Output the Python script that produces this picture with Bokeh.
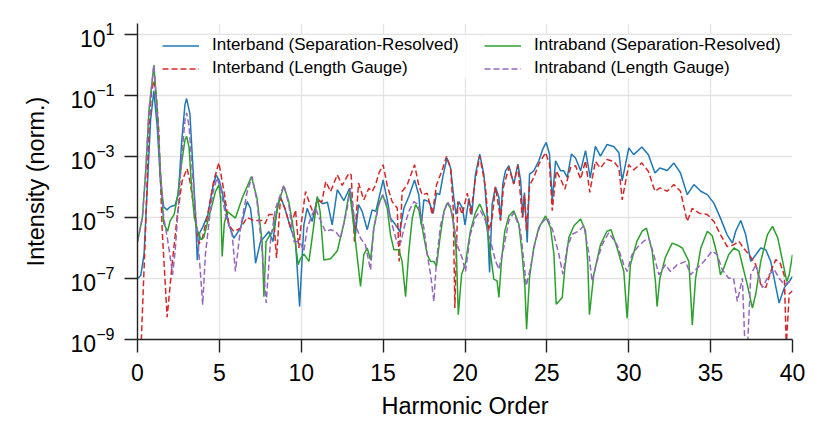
from bokeh.plotting import figure
from bokeh.models import (Range1d, FixedTicker, LogTickFormatter, Legend,
                          LegendItem, ColumnDataSource)
from bokeh.embed import file_html
from bokeh.resources import INLINE

# ---- data: (harmonic order, log10 of normalised intensity) ----
inter_sr = [
    (0.0, -7.0), (0.2, -6.9), (0.4, -6.2), (0.6, -4.0), (0.8, -1.8), (1.0, -0.85),
    (1.2, -2.0), (1.4, -3.8), (1.6, -4.65), (1.8, -4.75), (2.0, -4.65), (2.3, -4.6),
    (2.5, -4.2), (2.7, -2.5), (2.9, -1.3), (3.0, -1.1), (3.2, -1.6), (3.4, -3.5),
    (3.55, -5.0), (3.65, -6.4), (3.8, -5.5), (4.0, -5.3), (4.3, -4.9), (4.6, -4.0),
    (4.8, -3.6), (5.0, -3.8), (5.17, -4.15), (5.58, -5.24), (5.88, -5.68), (6.29, -5.35),
    (6.7, -4.48), (6.9, -4.7), (7.05, -5.4), (7.21, -6.5), (7.51, -5.79), (7.82, -5.6),
    (8.02, -5.46), (8.27, -5.79), (8.53, -4.7), (8.73, -4.31), (9.0, -4.7), (9.35, -5.35),
    (9.65, -5.79), (9.9, -7.92), (10.16, -5.24), (10.36, -4.7), (10.67, -5.13), (10.98, -4.37),
    (11.3, -4.55), (11.6, -4.5), (11.89, -5.24), (12.2, -4.09), (12.6, -4.45), (12.95, -4.04),
    (13.2, -5.02), (13.3, -5.6), (13.5, -4.58), (13.72, -4.8), (14.03, -5.4), (14.33, -4.75),
    (14.55, -4.8), (14.84, -4.15), (15.0, -3.77), (15.25, -4.42), (15.45, -5.02), (15.76, -5.24),
    (16.02, -5.46), (16.27, -4.69), (16.57, -4.31), (16.92, -3.77), (17.18, -4.26), (17.33, -5.24),
    (17.49, -4.42), (17.8, -4.48), (18.06, -4.86), (18.26, -4.2), (18.45, -4.25), (18.67, -3.6),
    (18.9, -3.05), (19.12, -3.38), (19.32, -4.37), (19.45, -4.9), (19.63, -4.48), (19.85, -4.7),
    (20.0, -5.24), (20.24, -4.37), (20.42, -4.9), (20.64, -3.58), (20.9, -2.92), (21.15, -3.58),
    (21.35, -4.9), (21.5, -6.8), (21.66, -4.56), (21.86, -4.0), (22.07, -4.34), (22.17, -5.1),
    (22.31, -3.9), (22.47, -3.47), (22.68, -3.3), (22.98, -3.9), (23.23, -3.25), (23.4, -3.8),
    (23.53, -5.0), (23.63, -4.18), (23.8, -5.82), (23.94, -3.58), (24.2, -3.47), (24.51, -3.14),
    (24.75, -2.76), (24.96, -2.54), (25.16, -2.92), (25.33, -4.45), (25.53, -3.14), (25.84, -3.47),
    (26.04, -3.47), (26.24, -3.69), (26.5, -2.92), (26.75, -3.05), (27.06, -3.47), (27.36, -2.81),
    (27.65, -3.7), (27.96, -2.67), (28.27, -2.99), (28.67, -2.61), (29.08, -2.67), (29.4, -2.88),
    (29.6, -3.8), (30.0, -2.72), (30.3, -2.94), (30.8, -2.69), (31.2, -2.94), (31.6, -3.54),
    (31.9, -3.38), (32.35, -3.46), (32.75, -3.21), (33.16, -3.54), (33.57, -4.25), (33.98, -3.92),
    (34.4, -4.14), (34.8, -4.25), (35.2, -4.53), (35.6, -5.02), (36.0, -5.56), (36.33, -5.84),
    (36.53, -5.45), (36.84, -5.1), (37.14, -5.56), (37.45, -6.44), (37.76, -6.22), (38.06, -6.0),
    (38.37, -6.06), (38.67, -6.44), (39.18, -7.8), (39.5, -7.3), (39.8, -7.1), (40.0, -6.93),
]

inter_lg = [
    (0.1, -10.5), (0.24, -8.92), (0.49, -5.43), (0.69, -2.15), (0.85, -0.9), (1.0, -0.51),
    (1.15, -1.0), (1.3, -2.15), (1.51, -5.43), (1.81, -8.27), (2.12, -6.5), (2.42, -4.99),
    (2.73, -3.79), (3.03, -3.4), (3.2, -3.8), (3.44, -4.66), (3.75, -5.86), (3.95, -5.7),
    (4.26, -4.99), (4.66, -3.79), (4.97, -3.2), (5.3, -4.2), (5.58, -5.24), (5.88, -5.46),
    (6.29, -5.35), (6.7, -5.0), (7.1, -5.1), (7.6, -5.1), (7.8, -5.2), (8.02, -4.9),
    (8.3, -4.9), (8.49, -6.33), (8.73, -4.37), (9.0, -4.7), (9.35, -5.35), (9.65, -4.75),
    (9.85, -6.0), (10.0, -5.2), (10.26, -4.15), (10.55, -4.6), (10.77, -4.9), (10.98, -4.42),
    (11.25, -4.5), (11.5, -3.82), (11.79, -4.15), (12.2, -3.6), (12.5, -3.95), (12.91, -3.55),
    (13.05, -3.6), (13.25, -5.79), (13.5, -3.87), (13.82, -4.42), (14.13, -4.04), (14.33, -4.15),
    (14.54, -3.93), (14.74, -3.55), (15.0, -3.27), (15.25, -3.95), (15.55, -4.48), (15.86, -4.69),
    (15.98, -6.44), (16.16, -4.15), (16.47, -3.93), (16.92, -3.27), (17.18, -3.95), (17.39, -4.26),
    (17.69, -4.2), (18.0, -4.91), (18.26, -3.93), (18.61, -3.44), (18.87, -3.0), (19.12, -3.38),
    (19.28, -4.69), (19.38, -7.97), (19.56, -4.48), (19.83, -4.9), (20.14, -4.2), (20.35, -4.9),
    (20.6, -3.85), (20.9, -2.98), (21.25, -4.0), (21.46, -5.44), (21.66, -5.0), (21.86, -4.0),
    (22.07, -4.7), (22.17, -5.1), (22.35, -4.0), (22.68, -3.36), (22.98, -3.9), (23.23, -3.3),
    (23.5, -5.0), (23.63, -4.26), (23.76, -5.44), (23.94, -3.95), (24.2, -3.69), (24.51, -3.25),
    (24.92, -2.87), (25.16, -3.25), (25.33, -4.78), (25.57, -3.47), (25.84, -3.74), (26.1, -4.07),
    (26.45, -3.36), (26.75, -3.3), (27.06, -3.74), (27.36, -3.14), (27.62, -4.18), (27.96, -3.16),
    (28.27, -3.38), (28.67, -3.1), (29.08, -3.16), (29.4, -3.38), (29.6, -4.42), (30.0, -3.27),
    (30.3, -3.44), (30.8, -3.21), (31.2, -3.49), (31.6, -4.14), (31.9, -4.03), (32.35, -4.14),
    (32.75, -3.92), (33.16, -4.14), (33.57, -5.13), (33.88, -4.7), (34.3, -4.86), (34.8, -4.9),
    (35.2, -5.13), (35.6, -5.56), (36.0, -5.95), (36.4, -5.9), (36.73, -5.78), (37.0, -6.0),
    (37.35, -6.22), (37.76, -6.55), (38.06, -7.2), (38.37, -7.3), (38.67, -6.77), (38.98, -6.38),
    (39.25, -6.5), (39.5, -6.9), (39.62, -9.2), (39.8, -7.5), (40.0, -7.4),
]

intra_sr = [
    (0.0, -5.8), (0.3, -5.0), (0.5, -3.5), (0.7, -1.5), (1.0, 0.0), (1.2, -1.5),
    (1.4, -3.5), (1.6, -5.2), (1.84, -5.45), (2.0, -5.1), (2.24, -4.9), (2.45, -4.3),
    (2.7, -3.2), (2.9, -2.45), (3.0, -2.34), (3.15, -2.7), (3.3, -4.0), (3.47, -5.0),
    (3.65, -5.4), (3.88, -5.73), (4.05, -5.65), (4.3, -5.1), (4.6, -4.5), (4.76, -4.15),
    (4.97, -3.93), (5.08, -4.4), (5.17, -6.28), (5.3, -5.2), (5.48, -4.8), (5.98, -5.02),
    (6.39, -4.37), (6.96, -3.66), (7.3, -4.37), (7.61, -5.79), (7.72, -7.6), (7.85, -5.79),
    (8.33, -5.35), (8.63, -4.48), (8.94, -3.98), (9.24, -4.48), (9.55, -5.46), (9.81, -6.55),
    (9.95, -6.35), (10.16, -6.2), (10.47, -6.44), (10.77, -5.24), (10.98, -4.31), (11.15, -4.8),
    (11.38, -6.39), (11.79, -6.35), (12.2, -6.1), (12.6, -5.2), (12.95, -4.12), (13.2, -5.24),
    (13.4, -6.2), (13.62, -7.26), (13.82, -6.22), (14.03, -6.0), (14.23, -6.39), (14.43, -5.35),
    (14.74, -4.53), (14.98, -4.26), (15.25, -4.69), (15.45, -5.57), (15.66, -6.06), (15.96, -6.06),
    (16.16, -6.44), (16.37, -7.6), (16.57, -6.11), (16.78, -5.02), (16.98, -4.58), (17.18, -4.75),
    (17.39, -5.35), (17.69, -6.22), (17.9, -6.44), (18.1, -6.44), (18.26, -6.6), (18.47, -5.68),
    (18.71, -4.8), (18.92, -4.53), (19.12, -4.7), (19.32, -5.24), (19.48, -6.22), (19.59, -8.19),
    (19.79, -6.88), (20.03, -6.5), (20.33, -5.44), (20.64, -4.84), (20.9, -4.56), (21.25, -5.0),
    (21.56, -6.2), (21.76, -7.02), (21.96, -7.08), (22.07, -7.62), (22.23, -6.42), (22.43, -5.44),
    (22.68, -4.95), (22.98, -4.78), (23.29, -5.22), (23.49, -6.2), (23.66, -7.3), (23.76, -8.66),
    (23.94, -6.97), (24.2, -5.98), (24.51, -5.33), (24.92, -4.95), (25.22, -5.33), (25.43, -6.2),
    (25.57, -7.84), (25.77, -7.73), (25.94, -7.62), (26.1, -6.64), (26.34, -5.66), (26.65, -5.27),
    (27.06, -5.05), (27.36, -5.44), (27.5, -6.5), (27.6, -8.19), (27.86, -6.88), (28.27, -5.9),
    (28.67, -5.45), (28.92, -5.4), (29.29, -6.0), (29.7, -6.77), (29.9, -8.3), (30.1, -6.55),
    (30.5, -5.78), (30.82, -5.45), (31.08, -5.35), (31.43, -6.1), (31.63, -7.1), (31.73, -7.92),
    (31.9, -7.0), (32.24, -6.3), (32.65, -5.84), (32.95, -5.9), (33.27, -6.0), (33.67, -6.44),
    (33.88, -8.52), (34.08, -7.0), (34.4, -6.0), (34.8, -5.45), (35.1, -5.6), (35.4, -6.22),
    (35.6, -6.88), (35.8, -6.66), (36.1, -6.22), (36.43, -6.0), (36.73, -6.1), (37.04, -6.77),
    (37.24, -7.2), (37.55, -7.97), (37.76, -7.5), (38.06, -6.44), (38.47, -5.56), (38.78, -5.29),
    (39.1, -5.67), (39.4, -6.44), (39.65, -7.1), (39.8, -6.88), (40.0, -6.22),
]

intra_lg = [
    (0.0, -5.8), (0.3, -5.0), (0.5, -3.5), (0.7, -1.5), (1.0, 0.0), (1.2, -1.5),
    (1.4, -3.5), (1.6, -5.0), (1.8, -5.6), (2.0, -6.3), (2.14, -6.88), (2.3, -6.1),
    (2.5, -4.6), (2.7, -3.0), (2.9, -1.8), (3.0, -1.57), (3.15, -2.0), (3.35, -3.5),
    (3.6, -5.2), (3.8, -6.5), (3.98, -7.86), (4.15, -6.2), (4.4, -5.0), (4.6, -4.2),
    (4.85, -3.7), (5.07, -4.04), (5.37, -4.9), (5.78, -5.57), (5.98, -6.77), (6.29, -5.35),
    (6.7, -4.15), (7.0, -3.66), (7.3, -4.48), (7.61, -6.1), (7.86, -7.8), (8.12, -5.79),
    (8.43, -4.7), (8.94, -3.93), (9.24, -4.58), (9.55, -5.79), (9.9, -5.79), (10.16, -6.1),
    (10.36, -5.35), (10.67, -4.9), (10.87, -4.7), (11.1, -5.0), (11.48, -5.46), (11.79, -5.4),
    (12.1, -5.46), (12.4, -5.68), (12.81, -4.7), (13.0, -4.04), (13.3, -5.24), (13.62, -5.68),
    (13.92, -5.9), (14.23, -6.72), (14.43, -5.35), (14.74, -4.58), (14.98, -4.26), (15.25, -4.6),
    (15.55, -5.24), (15.86, -5.84), (16.1, -5.8), (16.27, -5.35), (16.57, -4.8), (16.88, -4.48),
    (17.08, -4.55), (17.28, -4.8), (17.49, -5.35), (17.73, -6.33), (17.9, -6.88), (18.1, -7.75),
    (18.26, -6.4), (18.51, -5.24), (18.92, -4.48), (19.12, -4.65), (19.32, -5.24), (19.52, -5.9),
    (19.83, -6.33), (20.03, -6.77), (20.33, -5.55), (20.64, -5.0), (20.95, -4.78), (21.25, -5.1),
    (21.56, -5.77), (21.86, -6.42), (22.07, -6.7), (22.37, -5.98), (22.68, -5.1), (22.98, -4.84),
    (23.39, -5.44), (23.59, -6.42), (23.74, -7.24), (24.0, -6.64), (24.3, -5.77), (24.61, -5.22),
    (25.02, -5.0), (25.37, -5.44), (25.73, -6.2), (25.98, -6.86), (26.24, -5.98), (26.55, -5.55),
    (26.95, -5.44), (27.26, -5.27), (27.57, -6.2), (27.76, -7.1), (28.06, -6.44), (28.37, -5.9),
    (28.78, -5.5), (29.29, -5.9), (29.7, -6.55), (29.9, -6.77), (30.2, -6.22), (30.5, -6.0),
    (30.9, -5.78), (31.22, -5.67), (31.53, -6.22), (31.84, -6.88), (32.24, -6.55), (32.55, -6.77),
    (32.96, -6.55), (33.47, -6.44), (33.78, -6.88), (34.18, -6.66), (34.59, -6.44), (35.1, -6.1),
    (35.4, -6.22), (35.7, -6.7), (36.1, -6.99), (36.4, -6.99), (36.63, -7.75), (36.94, -6.99),
    (37.1, -9.3), (37.25, -9.3), (37.45, -6.88), (37.76, -6.55), (38.16, -7.3), (38.57, -6.88),
    (38.88, -6.7), (39.18, -6.99), (39.5, -7.2), (39.8, -7.1), (40.0, -7.2),
]

x_ticks = [0, 5, 10, 15, 20, 25, 30, 35, 40]
y_tick_exponents = [-9, -7, -5, -3, -1, 1]

labels = ["Interband (Separation-Resolved)", "Interband (Length Gauge)",
          "Intraband (Separation-Resolved)", "Intraband (Length Gauge)"]
colors = ["#1f77b4", "#d62728", "#2ca02c", "#9467bd"]

FONT = "Liberation Sans"

p = figure(frame_width=655, frame_height=316, y_axis_type="log",
           x_range=Range1d(0, 40), y_range=Range1d(1e-9, 10 ** 1.36),
           output_backend="svg", toolbar_location=None,
           min_border_left=137, min_border_right=29, min_border_top=23,
           min_border_bottom=96)
p.outline_line_color = None
p.background_fill_color = "white"
p.border_fill_color = "white"


def add_line(data, color, dash):
    src = ColumnDataSource(dict(x=[d[0] for d in data], y=[10.0 ** d[1] for d in data]))
    return p.line("x", "y", source=src, line_color=color, line_width=1.5, line_dash=dash)


r_blue = add_line(inter_sr, colors[0], "solid")
r_red = add_line(inter_lg, colors[1], "6 3")
r_green = add_line(intra_sr, colors[2], "solid")
r_purple = add_line(intra_lg, colors[3], "6 3")

yt = FixedTicker(ticks=[10.0 ** e for e in y_tick_exponents])
xt = FixedTicker(ticks=x_ticks)
p.xaxis.ticker = xt
p.yaxis.ticker = yt
p.xgrid.ticker = xt
p.ygrid.ticker = yt
for g in (p.xgrid, p.ygrid):
    g.grid_line_color = "#e3e3e3"
    g.grid_line_width = 1.3

p.yaxis.formatter = LogTickFormatter()

for ax in (p.xaxis[0], p.yaxis[0]):
    ax.axis_line_color = "#222222"
    ax.axis_line_width = 1.4
    ax.major_tick_line_color = "#222222"
    ax.major_tick_line_width = 1.4
    ax.major_tick_out = 13
    ax.major_tick_in = 0
    ax.minor_tick_line_color = None
    ax.major_label_text_font = FONT
    ax.major_label_text_font_size = "23px"
    ax.major_label_text_color = "black"
    ax.axis_label_text_font = FONT
    ax.axis_label_text_font_size = "23.5px"
    ax.axis_label_text_font_style = "normal"
    ax.axis_label_text_color = "black"

p.xaxis.axis_label = "Harmonic Order"
p.yaxis.axis_label = "Intensity (norm.)"
p.xaxis.major_label_standoff = 11
p.yaxis.major_label_standoff = 10
p.xaxis.axis_label_standoff = 9
p.yaxis.axis_label_standoff = 19

leg1 = Legend(items=[LegendItem(label=labels[0], renderers=[r_blue]),
                     LegendItem(label=labels[1], renderers=[r_red])],
              location=(25, 261), label_width=266)
leg2 = Legend(items=[LegendItem(label=labels[2], renderers=[r_green]),
                     LegendItem(label=labels[3], renderers=[r_purple])],
              location=(347, 261))
for leg in (leg1, leg2):
    leg.label_text_font = FONT
    leg.label_text_font_size = "17px"
    leg.label_text_color = "black"
    leg.glyph_width = 37
    leg.glyph_height = 19
    leg.label_height = 19
    leg.label_standoff = 13
    leg.spacing = 3
    leg.padding = 3
    leg.margin = 0
    leg.border_line_color = None
    leg.background_fill_color = "white"
    leg.background_fill_alpha = 0.85
    p.add_layout(leg, "center")

open("out.html", "w").write(file_html(p, INLINE))
